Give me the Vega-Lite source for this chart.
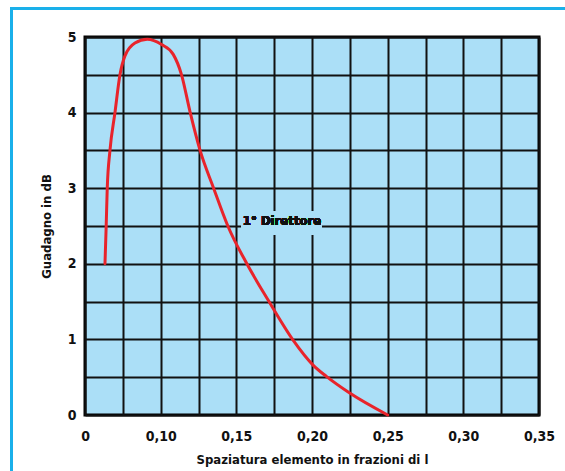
{
  "$schema": "https://vega.github.io/schema/vega-lite/v6.json",
  "width": 454,
  "height": 378,
  "autosize": "none",
  "padding": {"left": 85, "top": 37, "right": 26, "bottom": 56},
  "background": "white",
  "config": {
    "font": "DejaVu Sans Condensed",
    "view": {"fill": "#abdff7", "stroke": "#000000", "strokeWidth": 3},
    "axis": {
      "labelFont": "DejaVu Sans Condensed",
      "labelFontWeight": "bold",
      "labelFontSize": 14,
      "labelColor": "#111111",
      "titleFont": "DejaVu Sans Condensed",
      "titleFontWeight": "bold",
      "titleFontSize": 13,
      "titleColor": "#111111",
      "domain": false,
      "ticks": false,
      "grid": true,
      "gridColor": "#111111",
      "gridWidth": 2,
      "gridOpacity": 1
    }
  },
  "data": {
    "values": [
      {"spacing": 0.0632, "gain": 2.0},
      {"spacing": 0.0640, "gain": 2.5},
      {"spacing": 0.0647, "gain": 3.0},
      {"spacing": 0.0665, "gain": 3.5},
      {"spacing": 0.0698, "gain": 4.0},
      {"spacing": 0.0731, "gain": 4.5},
      {"spacing": 0.0764, "gain": 4.75},
      {"spacing": 0.0830, "gain": 4.92},
      {"spacing": 0.0911, "gain": 4.97},
      {"spacing": 0.1006, "gain": 4.90},
      {"spacing": 0.1083, "gain": 4.77},
      {"spacing": 0.1138, "gain": 4.50},
      {"spacing": 0.1193, "gain": 4.02},
      {"spacing": 0.1259, "gain": 3.51},
      {"spacing": 0.1350, "gain": 3.00},
      {"spacing": 0.1446, "gain": 2.49},
      {"spacing": 0.1567, "gain": 2.01},
      {"spacing": 0.1710, "gain": 1.52},
      {"spacing": 0.1875, "gain": 0.99},
      {"spacing": 0.2007, "gain": 0.66},
      {"spacing": 0.2095, "gain": 0.51},
      {"spacing": 0.2249, "gain": 0.29},
      {"spacing": 0.2500, "gain": 0.0}
    ]
  },
  "layer": [
    {
      "mark": {"type": "line", "color": "#e8242b", "strokeWidth": 3, "interpolate": "monotone", "strokeCap": "round"},
      "encoding": {
        "x": {
          "field": "spacing",
          "type": "quantitative",
          "scale": {"domain": [0.05, 0.35], "nice": false, "zero": false},
          "axis": {
            "title": "Spaziatura elemento in frazioni di  l",
            "values": [0.05, 0.075, 0.1, 0.125, 0.15, 0.175, 0.2, 0.225, 0.25, 0.275, 0.3, 0.325, 0.35],
            "tickCount": 40,
            "labelExpr": "round(datum.value*1000) % 50 != 0 ? '' : (datum.value < 0.07 ? '0' : replace(format(datum.value, '.2f'), '.', ','))",
            "labelPadding": 14,
            "titlePadding": 10,
            "labelFlush": false
          }
        },
        "y": {
          "field": "gain",
          "type": "quantitative",
          "scale": {"domain": [0, 5], "nice": false},
          "axis": {
            "title": "Guadagno in dB",
            "values": [0, 0.5, 1, 1.5, 2, 2.5, 3, 3.5, 4, 4.5, 5],
            "tickCount": 40,
            "labelExpr": "datum.value % 1 != 0 ? '' : format(datum.value, 'd')",
            "labelPadding": 9,
            "titlePadding": 14
          }
        }
      }
    },
    {
      "mark": {"type": "rect", "fill": null, "filled": false, "stroke": "#1ab0ea", "strokeWidth": 2.5, "clip": false},
      "encoding": {
        "x": {"datum": 0.0014, "type": "quantitative"},
        "x2": {"datum": 0.45},
        "y": {"datum": 5.374, "type": "quantitative"},
        "y2": {"datum": -1}
      }
    },
    {
      "mark": {"type": "rect", "fill": "#abdff7", "stroke": null},
      "encoding": {
        "x": {"datum": 0.1535, "type": "quantitative"},
        "x2": {"datum": 0.2066},
        "y": {"datum": 2.38, "type": "quantitative"},
        "y2": {"datum": 2.69}
      }
    },
    {
      "mark": {"type": "text", "text": "1° Direttore", "font": "DejaVu Sans Condensed", "fontWeight": "bold", "fontSize": 13, "color": "#111111", "align": "center", "baseline": "middle"},
      "encoding": {
        "x": {"datum": 0.1802, "type": "quantitative"},
        "y": {"datum": 2.57, "type": "quantitative"}
      }
    }
  ]
}
